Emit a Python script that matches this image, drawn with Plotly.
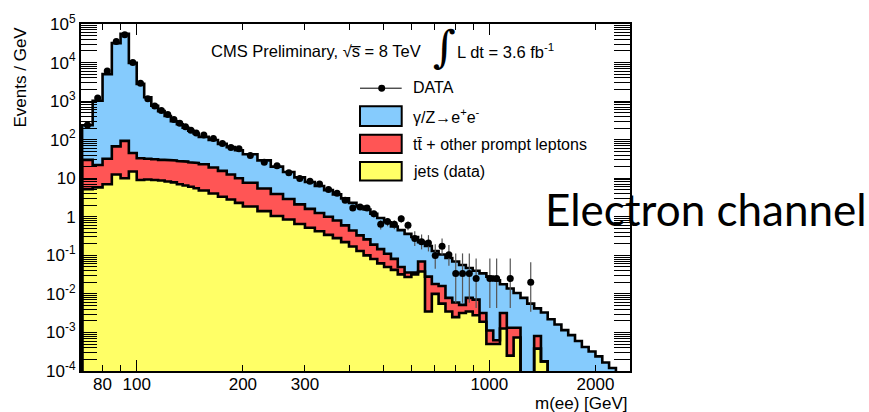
import math
import plotly.graph_objects as go

# ---------------- data ----------------
bin_edges = [70, 75, 80, 85, 90, 95, 100, 105, 110, 115, 120, 125, 130, 135, 140, 145,
             150, 160, 170, 180, 190,
             200, 220, 240, 260, 280, 300, 320, 340, 360, 380, 400, 420,
             440, 460, 481, 503, 526, 550, 575, 601, 628, 657, 687, 718, 751, 785, 821,
             858, 897, 938, 981, 1026, 1072, 1121, 1172, 1226, 1281, 1340, 1401, 1464,
             1531, 1601, 1674, 1750, 1830, 1913, 2000, 2091, 2186, 2286, 2390, 2499]

# stacked levels (events / GeV): top of jets, top of jets+ttbar, top of full stack
stack_jets = [5.2, 5.8, 7, 12.5, 10, 15, 9, 9.3, 9, 8.7, 8.2, 7.8, 7.0, 6.5, 6.0, 5.5,
              4.8, 4.0, 3.3, 2.8, 2.3,
              1.85, 1.4, 1.05, 0.85, 0.65, 0.52, 0.42, 0.34, 0.28, 0.22, 0.17, 0.13,
              0.10, 0.08, 0.062, 0.05, 0.042, 0.032, 0.0275, 0.032, 0.038, 0.0035, 0.010,
              0.0056, 0.0035, 0.0025, 0.0032, 0.0035, 0.0028, 0.0019, 0.0005, 0.0005,
              0.00126, 0.00025, 0.00074, 0, 0, 0.00038, 0.000178, 0, 0, 0, 0, 0, 0, 0,
              0, 0, 0, 0, 0]
stack_jets_tt = [30, 22, 32, 67, 93, 45, 33, 32, 31, 30, 30, 29, 28, 27, 26, 25,
                 23, 19, 15.5, 12.5, 10,
                 7.6, 5.4, 3.9, 2.9, 2.1, 1.6, 1.25, 1.0, 0.8, 0.6, 0.44, 0.33,
                 0.26, 0.19, 0.145, 0.11, 0.081, 0.05, 0.036, 0.036, 0.069, 0.028, 0.018,
                 0.016, 0.0079, 0.006, 0.0052, 0.0079, 0.0071, 0.0032, 0.00112, 0.00063,
                 0.0032, 0.00132, 0.00132, 0, 0, 0.00081, 0.000178, 0, 0, 0, 0, 0, 0, 0,
                 0, 0, 0, 0, 0]
stack_total = [236, 1020, 5000, 32000, 56000, 9800, 2800, 1260, 760, 550, 410, 300, 250,
               205, 170, 145,
               118, 98, 78, 64, 53,
               42, 29, 20, 14.5, 10.5, 8.0, 6.3, 4.9, 3.8, 3.0, 2.3, 1.85,
               1.55, 1.2, 0.93, 0.72, 0.56, 0.45, 0.36, 0.30, 0.22, 0.175, 0.13, 0.105,
               0.085, 0.069, 0.056, 0.047, 0.040, 0.034, 0.028, 0.0224, 0.0178, 0.0138,
               0.0105, 0.0079, 0.0056, 0.0042, 0.0033, 0.0022, 0.0016, 0.00115, 0.00085,
               0.0006, 0.00042, 0.00032, 0.00024, 0.000166, 0.00012, 0, 0]
data_vals = [240, 1200, 6000, 35000, 53000, 10000, 2900, 1150, 750, 570, 450, 335, 265,
             215, 175, 150,
             133, 107, 80, 63, 58,
             39, 26, 21, 13.8, 9.9, 8.4, 7.1, 5.1, 4.1, 2.7, 1.7, 1.8,
             1.7, 1.2, 0.64, 0.75, 0.64, 0.89, 0.60, 0.275, 0.226, 0.209, 0.099, 0.172,
             0.103, 0.034, 0.034, 0.034, 0.025, 0, 0.025, 0.025, 0, 0.025, 0, 0, 0.02,
             0, 0, 0, 0, 0, 0, 0, 0, 0, 0, 0, 0, 0, 0]

x_tick_vals = [80, 100, 200, 300, 1000, 2000]
x_tick_text = ["80", "100", "200", "300", "1000", "2000"]
x_minor_vals = [90, 400, 500, 600, 700, 800, 900]
x_long_vals = [100, 1000]
y_tick_vals = [1e-4, 1e-3, 1e-2, 1e-1, 1, 10, 1e2, 1e3, 1e4, 1e5]
y_tick_text = ["10<sup>-4</sup>", "10<sup>-3</sup>", "10<sup>-2</sup>", "10<sup>-1</sup>",
               "1", "10", "10<sup>2</sup>", "10<sup>3</sup>", "10<sup>4</sup>", "10<sup>5</sup>"]

BLUE = "#85CBFD"
RED = "#FF5555"
YELLOW = "#FFFF66"
FONT = "Liberation Sans, Arial, sans-serif"
FLOOR = 1e-9

X_RANGE = [math.log10(69.5), math.log10(2506)]
Y_RANGE = [-4, 5]


def stair(values):
    xs = [bin_edges[0]]
    ys = [FLOOR]
    for i, v in enumerate(values):
        v = v if v > 0 else FLOOR
        xs += [bin_edges[i], bin_edges[i + 1]]
        ys += [v, v]
    xs.append(bin_edges[-1])
    ys.append(FLOOR)
    return xs, ys


# Garwood 68% intervals for small counts
GARWOOD = {0: (0, 1.841), 1: (0.173, 3.300), 2: (0.708, 4.638), 3: (1.367, 5.918),
           4: (2.086, 7.163), 5: (2.840, 8.382), 6: (3.620, 9.584), 7: (4.419, 10.77),
           8: (5.232, 11.95), 9: (6.057, 13.11), 10: (6.891, 14.27)}

fig = go.Figure()

levels = [(stack_total, BLUE), (stack_jets_tt, RED), (stack_jets, YELLOW)]
for vals, col in levels:
    xs, ys = stair(vals)
    fig.add_trace(go.Scatter(x=xs, y=ys, mode="lines", fill="toself", fillcolor=col,
                             line=dict(color="rgba(0,0,0,0)", width=0),
                             hoverinfo="skip", showlegend=False))
for vals, col in levels:
    xs, ys = stair(vals)
    fig.add_trace(go.Scatter(x=xs, y=ys, mode="lines",
                             line=dict(color="black", width=2.6),
                             hoverinfo="skip", showlegend=False))

# data points with Poisson error bars
dx, dy, eup, edn = [], [], [], []
for i, v in enumerate(data_vals):
    if v <= 0:
        continue
    lo, hi = bin_edges[i], bin_edges[i + 1]
    w = hi - lo
    n = max(1, round(v * w))
    if n in GARWOOD:
        l, h = GARWOOD[n]
    else:
        l, h = n - math.sqrt(n), n + math.sqrt(n)
    scale = v / n
    dx.append(0.5 * (lo + hi))
    dy.append(v)
    eup.append((h - n) * scale)
    edn.append((n - l) * scale)

fig.add_trace(go.Scatter(x=dx, y=dy, mode="markers",
                         marker=dict(color="black", size=7),
                         error_y=dict(type="data", symmetric=False, array=eup,
                                      arrayminus=edn, color="#555555", thickness=1.2,
                                      width=0),
                         hoverinfo="skip", showlegend=False))

# invisible trace to activate the overlay axis carrying the long ticks
fig.add_trace(go.Scatter(x=[100], y=[1], xaxis="x2", mode="markers",
                         marker=dict(opacity=0), hoverinfo="skip", showlegend=False))

y_minor = [m * 10 ** e for e in range(-4, 5) for m in range(2, 10)]

fig.update_layout(
    width=869, height=412,
    margin=dict(l=81, r=239, t=18, b=41),
    paper_bgcolor="white", plot_bgcolor="white",
    showlegend=False,
    font=dict(family=FONT, color="black", size=17),
    xaxis=dict(type="log", range=X_RANGE, tickmode="array", tickvals=x_tick_vals,
               ticktext=x_tick_text, ticks="inside", ticklen=6, tickwidth=1,
               tickcolor="black", showline=True, linecolor="black", linewidth=2,
               mirror="allticks", showgrid=False, zeroline=False,
               tickfont=dict(size=17, family=FONT, color="black"),
               ticklabelstandoff=-3,
               minor=dict(tickmode="array", tickvals=x_minor_vals, ticks="inside",
                          ticklen=6, tickwidth=1, tickcolor="black", showgrid=False)),
    xaxis2=dict(type="log", range=X_RANGE, overlaying="x", anchor="y", side="bottom",
                tickmode="array", tickvals=x_long_vals, ticks="inside", ticklen=11,
                tickwidth=1, tickcolor="black", showticklabels=False, showline=True,
                linecolor="black", linewidth=2, mirror="allticks", showgrid=False,
                zeroline=False),
    yaxis=dict(type="log", range=Y_RANGE, tickmode="array", tickvals=y_tick_vals,
               ticktext=y_tick_text, ticks="inside", ticklen=16, tickwidth=1,
               tickcolor="black", showline=True, linecolor="black", linewidth=2,
               mirror="allticks", showgrid=False, zeroline=False,
               tickfont=dict(size=17, family=FONT, color="black"),
               minor=dict(tickmode="array", tickvals=y_minor, ticks="inside",
                          ticklen=8, tickwidth=1, tickcolor="black", showgrid=False)),
)


def px2paper(px, py):
    return (px - 81) / 549.0, (371 - py) / 353.0


annotations = []


def add_text(text, px, py, size, xanchor="left", yanchor="middle", angle=0, family=FONT):
    x, y = px2paper(px, py)
    annotations.append(dict(text=text, x=x, y=y, xref="paper", yref="paper",
                            xanchor=xanchor, yanchor=yanchor, showarrow=False,
                            textangle=angle, font=dict(size=size, family=family,
                                                       color="black")))


add_text("Events / GeV", 20, 19, 17, xanchor="center", yanchor="top", angle=-90)
add_text("m(ee) [GeV]", 630, 404, 17, xanchor="right")
add_text("CMS Preliminary, \u221As\u0305 = 8 TeV", 209, 45, 16.5)
add_text("\u222B", 444, 41, 44, xanchor="center", family="DejaVu Serif")
add_text("L dt = 3.6 fb<sup>-1</sup>", 455, 45, 16.5)
add_text("DATA", 411, 83, 16)
add_text("\u03B3/Z\u2192e<sup>+</sup>e<sup>-</sup>", 411, 112, 16)
add_text("tt\u0304 + other prompt leptons", 411, 141, 16)
add_text("jets (data)", 411, 168, 16)
add_text("Electron channel", 706, 206, 44, xanchor="center", family="Lato, Carlito, sans-serif")

shapes = []
# legend: data line + marker
x0, y0 = px2paper(360, 83.3)
x1, _ = px2paper(401.7, 83.3)
shapes.append(dict(type="line", xref="paper", yref="paper", x0=x0, x1=x1, y0=y0, y1=y0,
                   line=dict(color="black", width=1)))
cx, cy = px2paper(381.7, 83.3)
shapes.append(dict(type="circle", xref="paper", yref="paper",
                   x0=cx - 3.5 / 549, x1=cx + 3.5 / 549, y0=cy - 3.5 / 353, y1=cy + 3.5 / 353,
                   fillcolor="black", line=dict(color="black", width=0)))
for (top, bot), col in [((101.7, 121.7), BLUE), ((130.7, 149.3), RED), ((158.3, 177.3), YELLOW)]:
    bx0, by1 = px2paper(360, top)
    bx1, by0 = px2paper(401.7, bot)
    shapes.append(dict(type="rect", xref="paper", yref="paper", x0=bx0, x1=bx1,
                       y0=by0, y1=by1, fillcolor=col, line=dict(color="black", width=2)))

fig.update_layout(annotations=annotations, shapes=shapes)

fig.write_html("out.html")
